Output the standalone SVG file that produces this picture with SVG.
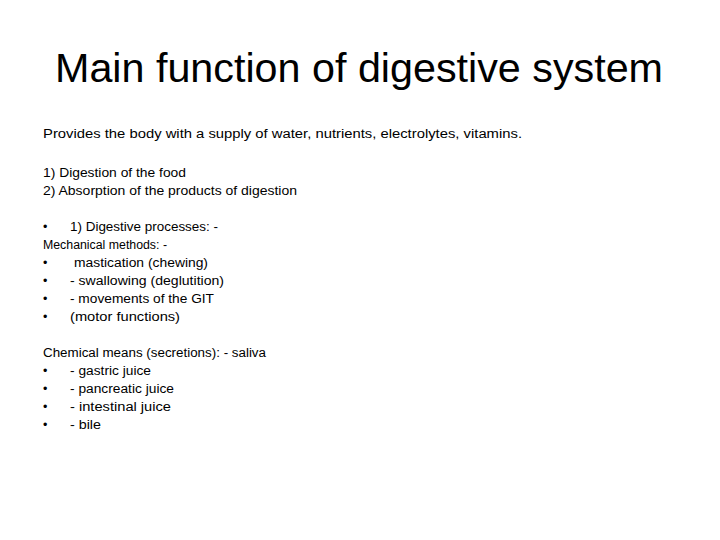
<svg xmlns="http://www.w3.org/2000/svg" width="720" height="540" viewBox="0 0 720 540">
<style>
.t{font-family:"Liberation Sans",Arial,sans-serif;font-size:40px;fill:#000}
.b{font-family:"Liberation Sans",Arial,sans-serif;font-size:12.5px;fill:#000}
</style>
<rect width="720" height="540" fill="#fff"/>
<text class="t" x="55" y="82" textLength="608" lengthAdjust="spacingAndGlyphs">Main function of  digestive system</text>
<g class="b">
<text x="43" y="138" textLength="479" lengthAdjust="spacingAndGlyphs">Provides the body with a supply of water, nutrients, electrolytes, vitamins.</text>
<text x="43" y="177" textLength="143" lengthAdjust="spacingAndGlyphs">1) Digestion of the food</text>
<text x="43" y="195" textLength="254" lengthAdjust="spacingAndGlyphs">2) Absorption of the products of digestion</text>
<text x="43" y="231">•</text><text x="70" y="231" textLength="148" lengthAdjust="spacingAndGlyphs">1) Digestive processes: -</text>
<text x="43" y="249" textLength="124" lengthAdjust="spacingAndGlyphs">Mechanical methods: -</text>
<text x="43" y="267">•</text><text x="74" y="267" textLength="134" lengthAdjust="spacingAndGlyphs">mastication (chewing)</text>
<text x="43" y="285">•</text><text x="70" y="285" textLength="154" lengthAdjust="spacingAndGlyphs">- swallowing (deglutition)</text>
<text x="43" y="303">•</text><text x="70" y="303" textLength="144" lengthAdjust="spacingAndGlyphs">- movements of the GIT</text>
<text x="43" y="321">•</text><text x="70" y="321" textLength="110" lengthAdjust="spacingAndGlyphs">(motor functions)</text>
<text x="43" y="357" textLength="223" lengthAdjust="spacingAndGlyphs">Chemical means (secretions): - saliva</text>
<text x="43" y="375">•</text><text x="70" y="375" textLength="81" lengthAdjust="spacingAndGlyphs">- gastric juice</text>
<text x="43" y="393">•</text><text x="70" y="393" textLength="104" lengthAdjust="spacingAndGlyphs">- pancreatic juice</text>
<text x="43" y="411">•</text><text x="70" y="411" textLength="101" lengthAdjust="spacingAndGlyphs">- intestinal juice</text>
<text x="43" y="429">•</text><text x="70" y="429" textLength="31" lengthAdjust="spacingAndGlyphs">- bile</text>
</g>
</svg>
